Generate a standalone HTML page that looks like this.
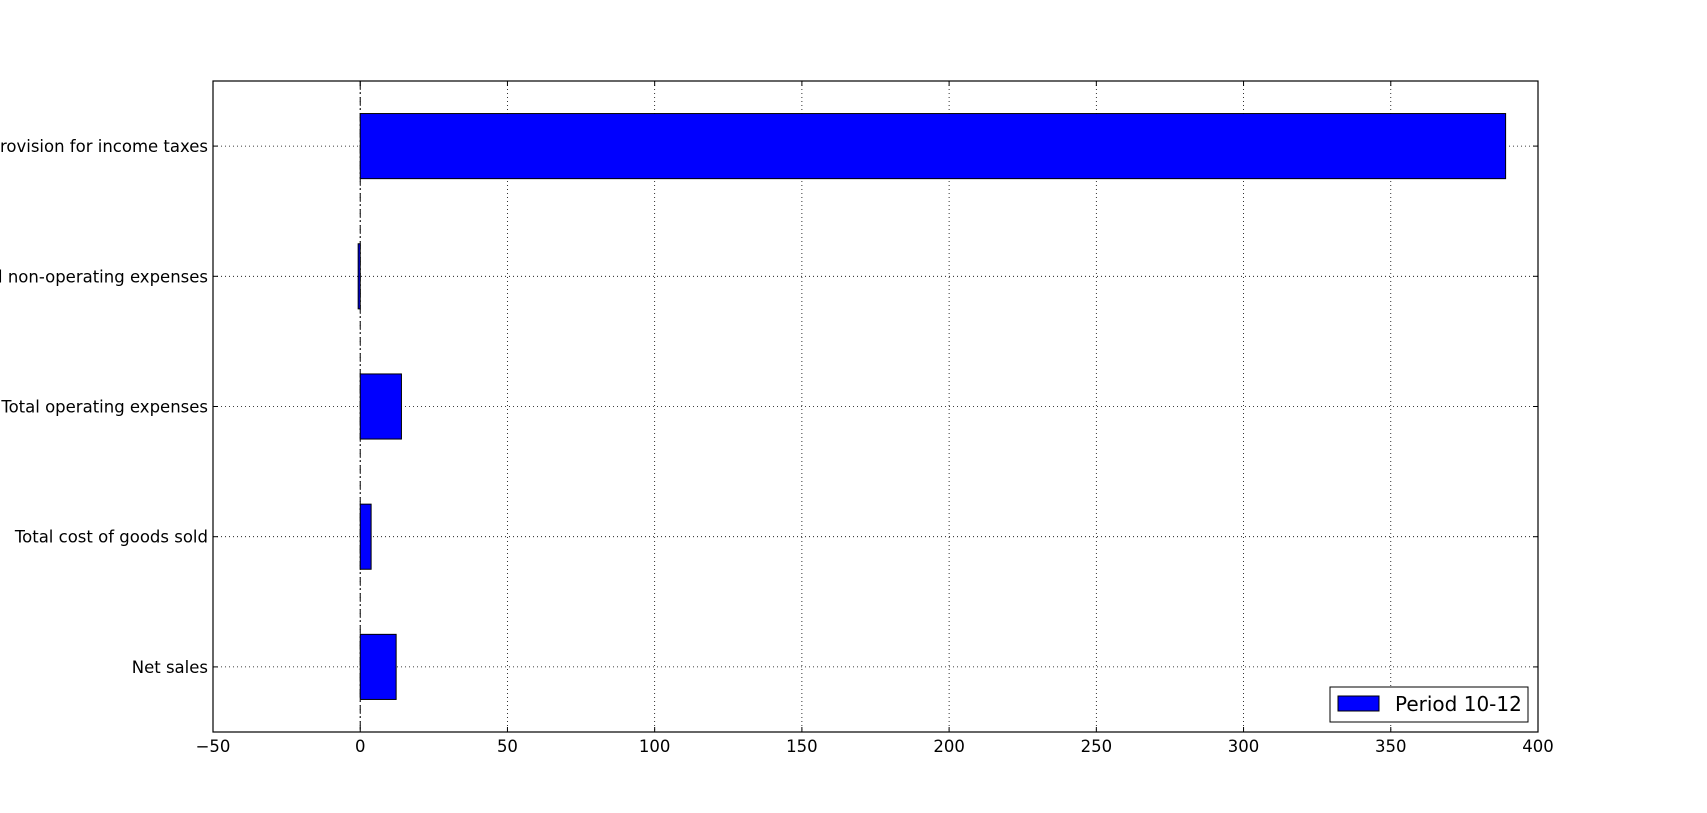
<!DOCTYPE html>
<html><head><meta charset="utf-8"><style>body{margin:0;background:#fff}svg{display:block}text{font-family:"DejaVu Sans","Liberation Sans",sans-serif}</style></head>
<body>
<svg id="chart" width="1707" height="813" xmlns="http://www.w3.org/2000/svg"></svg>
<script>
const categories = ["Net sales","Total cost of goods sold","Total operating expenses","Total non-operating expenses","Provision for income taxes"];
const values = [12.2, 3.7, 14.0, -0.7, 389];
const xTicks = [-50,0,50,100,150,200,250,300,350,400];
const seriesName = "Period 10-12";

const svg = document.getElementById('chart');
const NS = "http://www.w3.org/2000/svg";
const L=213,R=1538,T=81,B=732, xmin=-50,xmax=400;
const x = v => L + (v - xmin) / (xmax - xmin) * (R - L);
const y = i => B - (i + 0.5) / categories.length * (B - T);
const bh = (B - T) / categories.length * 0.5;
function mk(tag, attrs, parent){const e=document.createElementNS(NS,tag);for(const k in attrs)e.setAttribute(k,attrs[k]);(parent||svg).appendChild(e);return e;}

xTicks.forEach(t=>{
  const g=mk('line',{x1:x(t),x2:x(t),y1:T,y2:B,stroke:'#000','stroke-width':0.8,'stroke-dasharray':'1,3'});
  
  
  const tk=mk('line',{x1:x(t),x2:x(t),y1:B,y2:B-5,stroke:'#000'});
  
  
  const tk2=mk('line',{x1:x(t),x2:x(t),y1:T,y2:T+5,stroke:'#000'});
  
  
  const lb=mk('text',{x:x(t),y:752,'text-anchor':'middle','font-size':16.5});
  lb.textContent = t<0 ? '\u2212'+Math.abs(t) : t;
  
  
});
categories.forEach((c,i)=>{
  const g=mk('line',{x1:L,x2:R,y1:y(i),y2:y(i),stroke:'#000','stroke-width':0.8,'stroke-dasharray':'1,3'});
  
  
  const t1=mk('line',{x1:L,x2:L+5,y1:y(i),y2:y(i),stroke:'#000'});
  
  
  const t2=mk('line',{x1:R,x2:R-5,y1:y(i),y2:y(i),stroke:'#000'});
  
  
  const lb=mk('text',{x:208,y:y(i)+6,'text-anchor':'end','font-size':16.5});
  lb.textContent=c;
  
  
});
const z=mk('line',{x1:x(0),x2:x(0),y1:T,y2:B,stroke:'#000','stroke-width':1,'stroke-dasharray':'8,3,2,3'});


values.forEach((v,i)=>{
  const x0=Math.min(x(0),x(v)), w=Math.max(Math.abs(x(v)-x(0)),1);
  const r=mk('rect',{x:x0,y:y(i)-bh/2,width:w,height:bh,fill:'#0000ff',stroke:'#000','stroke-width':1});
  
  
});
const f=mk('rect',{x:L,y:T,width:R-L,height:B-T,fill:'none',stroke:'#000','stroke-width':1.2});


const lg=mk('g',{});


mk('rect',{x:1330,y:687,width:198,height:35,fill:'#fff',stroke:'#000','stroke-width':1},lg);
const lp=mk('rect',{x:1338,y:696,width:41,height:15,fill:'#0000ff',stroke:'#000'},lg);


const lt=mk('text',{x:1395,y:711,'font-size':20},lg);
lt.textContent=seriesName;


</script>
</body></html>
